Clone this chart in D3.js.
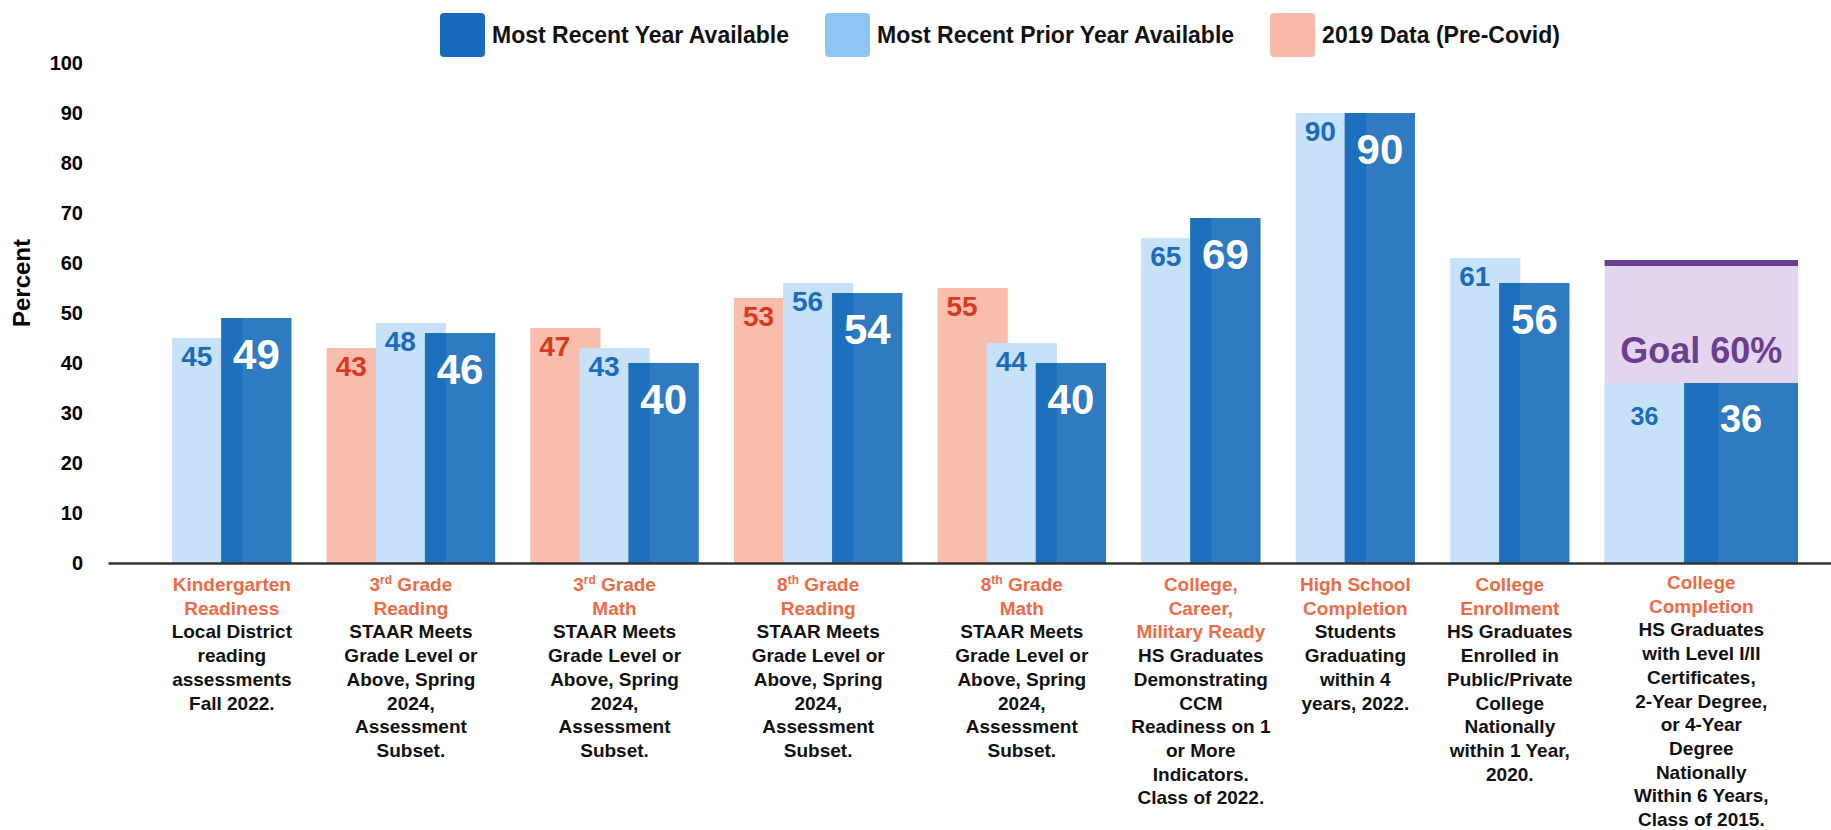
<!DOCTYPE html>
<html>
<head>
<meta charset="utf-8">
<script src="https://cdn.jsdelivr.net/npm/d3@7"></script>
<style>
  body { margin: 0; background: #fff; }
  svg { display: block; font-family: "Liberation Sans", Arial, sans-serif; }
</style>
</head>
<body>
<div id="wrapper"></div>
<script>
// Data
const categories = ['Kindergarten Readiness', '3rd Grade Reading', '3rd Grade Math', '8th Grade Reading',
  '8th Grade Math', 'College, Career, Military Ready', 'High School Completion', 'College Enrollment', 'College Completion'];
const hasPreCovidColumn = [true, true, true, true, true, false, false, false, false];
const preCovid2019 = [null, 43, 47, 53, 55, null, null, null, null];
const priorYear = [45, 48, 43, 56, 44, 65, 90, 61, 36];
const recentYear = [49, 46, 40, 54, 40, 69, 90, 56, 36];
const titleLines = [
  ['Kindergarten', 'Readiness'], ['3rd Grade', 'Reading'], ['3rd Grade', 'Math'], ['8th Grade', 'Reading'],
  ['8th Grade', 'Math'], ['College,', 'Career,', 'Military Ready'], ['High School', 'Completion'],
  ['College', 'Enrollment'], ['College', 'Completion']];
const staar = ['STAAR Meets', 'Grade Level or', 'Above, Spring', '2024,', 'Assessment', 'Subset.'];
const descLines = [
  ['Local District', 'reading', 'assessments', 'Fall 2022.'], staar, staar, staar, staar,
  ['HS Graduates', 'Demonstrating', 'CCM', 'Readiness on 1', 'or More', 'Indicators.', 'Class of 2022.'],
  ['Students', 'Graduating', 'within 4', 'years, 2022.'],
  ['HS Graduates', 'Enrolled in', 'Public/Private', 'College', 'Nationally', 'within 1 Year,', '2020.'],
  ['HS Graduates', 'with Level I/II', 'Certificates,', '2-Year Degree,', 'or 4-Year', 'Degree', 'Nationally',
    'Within 6 Years,', 'Class of 2015.']];
const goalCategory = 'College Completion';
const goalValue = 60;
const goalLabel = 'Goal 60%';
const legendLabels = ['Most Recent Year Available', 'Most Recent Prior Year Available', '2019 Data (Pre-Covid)'];
const yTicks = [0, 10, 20, 30, 40, 50, 60, 70, 80, 90, 100];

// Dimensions
const dimensions = {width: 1831, height: 830, axisLeft: 108, plotLeft: 123, plotRight: 1798, top: 63, bottom: 563};
const colors = {recent: '#2f7bc2', recentEdge: '#1f70bc', prior: '#c6e1f8', pre: '#f8bdac',
  legendRecent: '#1769bd', legendPrior: '#8fc4f3', legendPre: '#f8b9a6',
  priorText: '#1b6cbf', preText: '#d8391f', title: '#ef6a45', goal: '#6b3f8e', goalFill: '#e3d5ee'};
const BAR = 1, STEP = 0.7, GAP = 0.5, GOAL_SCALE = 1.62;

// Layout of groups in bar units
let cursor = 0;
const groups = categories.map((c, i) => {
  const k = c === goalCategory ? GOAL_SCALE : 1;
  const slots = hasPreCovidColumn[i] ? 3 : 2;
  const g = {i, k, slots, goal: c === goalCategory, start: cursor, width: k * ((slots - 1) * STEP + BAR)};
  cursor += g.width + GAP;
  return g;
});
const totalUnits = cursor - GAP;

const svg = d3.select('#wrapper').append('svg')
  .attr('width', dimensions.width).attr('height', dimensions.height);

// Scales
const xScale = d3.scaleLinear().domain([0, totalUnits]).range([dimensions.plotLeft, dimensions.plotRight]);
const yScale = d3.scaleLinear().domain([0, 100]).range([dimensions.bottom, dimensions.top]);
const unitPx = u => xScale(u) - xScale(0);

// bars list
const bars = [];
groups.forEach(g => {
  const slotX = s => g.start + s * STEP * g.k;
  if (g.slots === 3 && preCovid2019[g.i] != null)
    bars.push({g, key: 'pre', value: preCovid2019[g.i], x0: slotX(0)});
  bars.push({g, key: 'prior', value: priorYear[g.i], x0: slotX(g.slots - 2)});
  bars.push({g, key: 'recent', value: recentYear[g.i], x0: slotX(g.slots - 1)});
});

// Goal box
const goalGroup = groups.find(g => g.goal);
svg.append('rect')
  .attr('x', xScale(goalGroup.start)).attr('width', unitPx(goalGroup.width))
  .attr('y', yScale(goalValue)).attr('height', yScale(0) - yScale(goalValue))
  .attr('fill', colors.goalFill);
svg.append('rect')
  .attr('x', xScale(goalGroup.start)).attr('width', unitPx(goalGroup.width))
  .attr('y', yScale(goalValue) - 3).attr('height', 6)
  .attr('fill', colors.goal);
svg.append('text')
  .attr('x', xScale(goalGroup.start + goalGroup.width / 2))
  .attr('y', yScale(recentYear[goalGroup.i]) - 20)
  .attr('text-anchor', 'middle').attr('font-size', 36).attr('font-weight', 'bold')
  .attr('fill', colors.goal).text(goalLabel);

// Draw bars
const order = {pre: 0, prior: 1, recent: 2};
bars.sort((a, b) => order[a.key] - order[b.key]);
svg.append('g').selectAll('rect').data(bars).join('rect')
  .attr('x', d => xScale(d.x0)).attr('width', d => unitPx(BAR * d.g.k))
  .attr('y', d => yScale(d.value)).attr('height', d => yScale(0) - yScale(d.value))
  .attr('fill', d => colors[d.key]);
// darker left edge of the recent bars
svg.append('g').selectAll('rect').data(bars.filter(d => d.key === 'recent')).join('rect')
  .attr('x', d => xScale(d.x0)).attr('width', d => unitPx((BAR - STEP) * d.g.k))
  .attr('y', d => yScale(d.value)).attr('height', d => yScale(0) - yScale(d.value))
  .attr('fill', colors.recentEdge);

// Bar values
const labelOffset = d => d.key === 'recent' ? (d.g.goal ? 49 : 51) : (d.g.goal ? 42 : 28);
const labelSize = d => d.key === 'recent' ? (d.g.goal ? 38 : 42) : (d.g.goal ? 25 : 28);
svg.append('g').selectAll('text').data(bars).join('text')
  .attr('x', d => d.key === 'recent' ? xScale(d.x0 + BAR * d.g.k / 2) : xScale(d.x0 + STEP * d.g.k / 2))
  .attr('y', d => yScale(d.value) + labelOffset(d))
  .attr('text-anchor', 'middle').attr('font-weight', 'bold')
  .attr('font-size', labelSize)
  .attr('fill', d => d.key === 'recent' ? '#fff' : d.key === 'pre' ? colors.preText : colors.priorText)
  .text(d => d.value);

// Axes
const yAxis = svg.append('g').attr('transform', 'translate(90,0)')
  .call(d3.axisLeft(yScale).tickValues(yTicks).tickSize(0).tickPadding(7));
yAxis.select('.domain').remove();
yAxis.selectAll('text').attr('font-size', 20).attr('font-weight', 'bold').attr('fill', '#000')
  .attr('font-family', '"Liberation Sans", Arial, sans-serif');
const xAxis = svg.append('g').attr('transform', `translate(0,${yScale(0)})`)
  .call(d3.axisBottom(d3.scaleLinear().range([dimensions.axisLeft, dimensions.width])).tickValues([]).tickSizeOuter(0));
xAxis.select('.domain').attr('stroke', '#333').attr('stroke-width', 2.5);

svg.append('text')
  .attr('transform', `translate(30,${yScale(56)}) rotate(-90)`)
  .attr('text-anchor', 'middle').attr('font-size', 24).attr('font-weight', 'bold').text('Percent');

// Category labels
const lineH = 23.7;
const addLine = (sel, str) => {
  const m = str.match(/^(\d)(st|nd|rd|th)( .*)$/);
  if (m) {
    sel.append('tspan').text(m[1]);
    sel.append('tspan').attr('font-size', 12).attr('dy', -7).text(m[2]);
    sel.append('tspan').attr('dy', 7).text(m[3]);
  } else sel.text(str);
};
groups.forEach(g => {
  const firstSlot = g.slots === 3 && preCovid2019[g.i] == null ? 1 : 0;
  const cx = xScale((g.start + firstSlot * STEP * g.k + g.start + g.width) / 2);
  const lines = titleLines[g.i].map(t => ({t, title: true})).concat(descLines[g.i].map(t => ({t, title: false})));
  const y0 = Math.min(591, 826 - (lines.length - 1) * lineH);
  lines.forEach((l, j) => {
    const t = svg.append('text').attr('x', cx).attr('y', y0 + j * lineH)
      .attr('text-anchor', 'middle').attr('font-size', 19).attr('font-weight', 'bold')
      .attr('fill', l.title ? colors.title : '#111');
    addLine(t, l.t);
  });
});

// Legend
const legendColors = [colors.legendRecent, colors.legendPrior, colors.legendPre];
let lx = 440;
legendLabels.forEach((label, i) => {
  svg.append('rect').attr('x', lx).attr('y', 13).attr('width', 45).attr('height', 44).attr('rx', 4)
    .attr('fill', legendColors[i]);
  const t = svg.append('text').attr('x', lx + 52).attr('y', 43)
    .attr('font-size', 23).attr('font-weight', 'bold').attr('fill', '#111').text(label);
  lx += 52 + t.node().getComputedTextLength() + 36;
});
</script>
</body>
</html>
